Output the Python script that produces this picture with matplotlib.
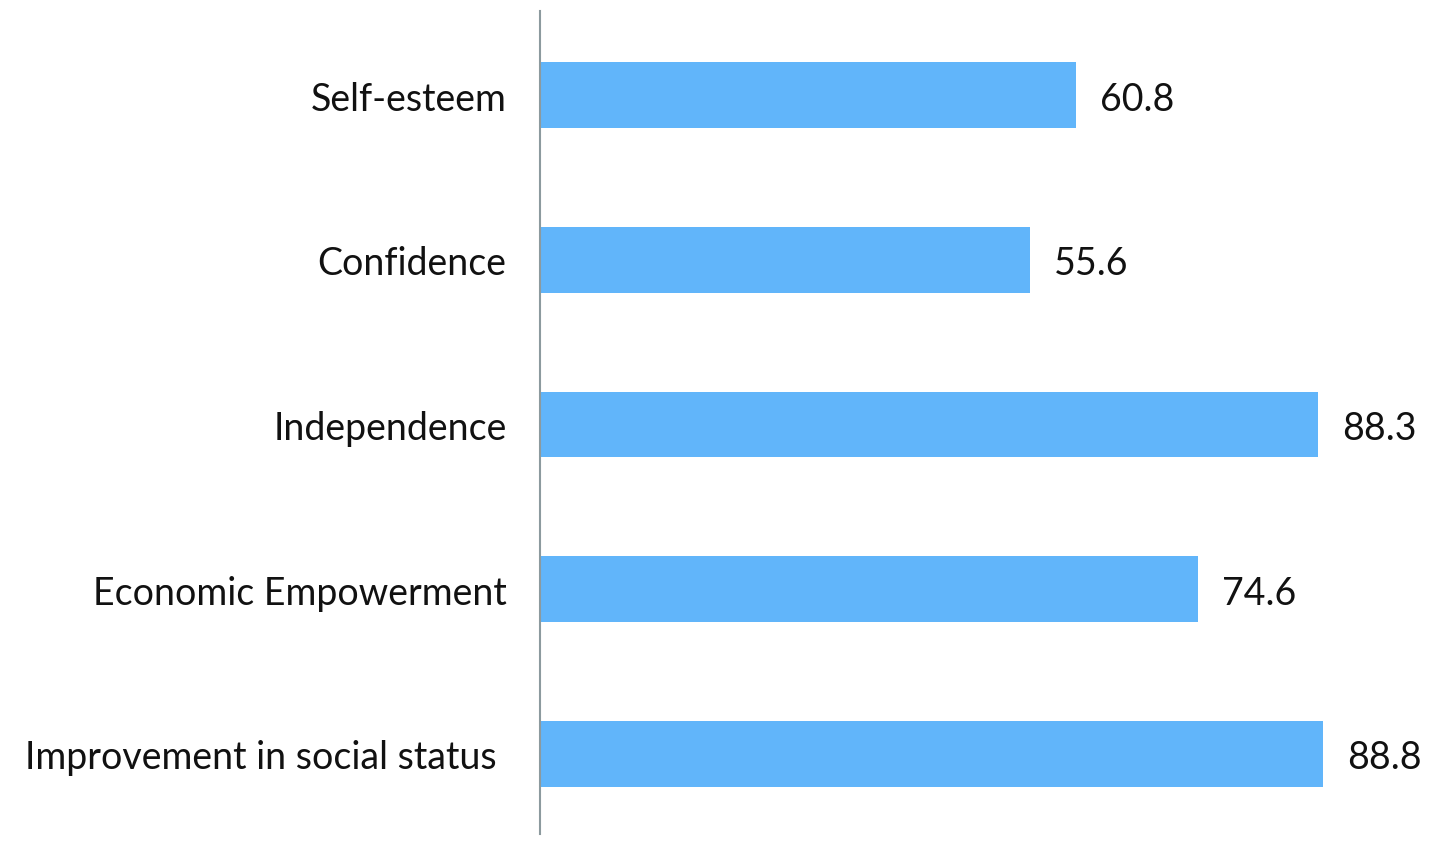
import matplotlib
matplotlib.use("Agg")
import matplotlib.pyplot as plt

categories = ["Self-esteem", "Confidence", "Independence", "Economic Empowerment", "Improvement in social status "]
values = [60.8, 55.6, 88.3, 74.6, 88.8]

plt.rcParams['font.family'] = ['Lato', 'DejaVu Sans']

W, H = 1447, 845
fig = plt.figure(figsize=(W/100, H/100), dpi=100)
left = 540 / W
ax = fig.add_axes([left, 1 - 835 / H, (1421.6 - 540) / W, (835 - 12) / H])

ypos = list(range(len(categories)))
bars = ax.barh(ypos, values, height=0.4, color="#61B5FA")
ax.set_xlim(0, 100)
ax.set_ylim(4.488, -0.512)
ax.set_yticks(ypos)
ax.set_yticklabels(categories, fontsize=27, color="#111111")
for lbl in ax.get_yticklabels():
    lbl.set_va("center_baseline")
ax.tick_params(axis='y', length=0, pad=24)
ax.set_xticks([])
for s in ["top", "right", "bottom"]:
    ax.spines[s].set_visible(False)
ax.spines["left"].set_color("#8C9A9E")
ax.spines["left"].set_linewidth(1.5)

for y, v in zip(ypos, values):
    ax.annotate(f"{v:.1f}", xy=(v, y), xytext=(24, 0), textcoords="offset pixels",
                va="center_baseline", ha="left", fontsize=27, color="#111111")

fig.savefig("out.png", dpi=100)
